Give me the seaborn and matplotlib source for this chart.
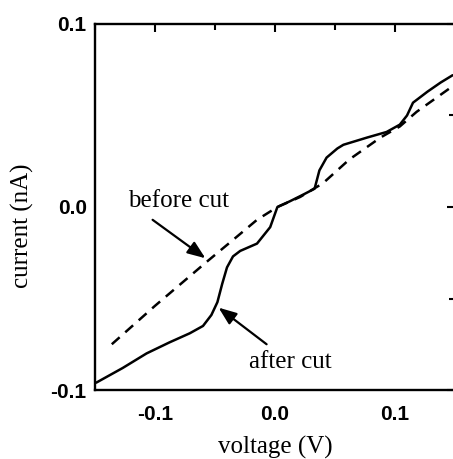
import numpy as np
import pandas as pd
import matplotlib
matplotlib.use('Agg')
import matplotlib.pyplot as plt
from matplotlib.ticker import MultipleLocator
import seaborn as sns

# I-V curve after the cut (solid)
v_after = [-0.149, -0.127, -0.107, -0.088, -0.071, -0.060, -0.053, -0.048, -0.044, -0.040,
           -0.035, -0.029, -0.015, -0.004, 0.002, 0.012, 0.023, 0.033, 0.037, 0.043,
           0.052, 0.057, 0.077, 0.093, 0.104, 0.110, 0.115, 0.127, 0.138, 0.148]
i_after = [-0.096, -0.088, -0.080, -0.074, -0.069, -0.065, -0.059, -0.052, -0.042, -0.033,
           -0.027, -0.024, -0.020, -0.011, 0.000, 0.003, 0.0066, 0.010, 0.020, 0.027,
           0.032, 0.034, 0.038, 0.041, 0.045, 0.050, 0.057, 0.063, 0.068, 0.072]

# I-V curve before the cut (dashed)
v_before = [-0.136, -0.100, -0.057, -0.035, -0.015, 0.002, 0.021, 0.040, 0.062, 0.088, 0.104, 0.118, 0.148]
i_before = [-0.075, -0.054, -0.030, -0.018, -0.007, 0.000, 0.0055, 0.013, 0.026, 0.038, 0.044, 0.052, 0.066]

tick_vals = [-0.1, 0.0, 0.1]
tick_text = ['-0.1', '0.0', '0.1']

dfAfter = pd.DataFrame({'voltage': v_after, 'current': i_after})
dfBefore = pd.DataFrame({'voltage': v_before, 'current': i_before})

sns.set_theme(style='white')
plt.rcParams['font.family'] = ['Liberation Sans', 'DejaVu Sans']
plt.rcParams['text.color'] = 'black'
plt.rcParams['axes.labelcolor'] = 'black'

fig = plt.figure(figsize=(4.53, 4.59), dpi=100)
ax = fig.add_axes([95 / 453, 69 / 459, 360 / 453, 366 / 459])

sns.lineplot(data=dfAfter, x='voltage', y='current', sort=False, ax=ax,
             color='black', linewidth=1.8)
sns.lineplot(data=dfBefore, x='voltage', y='current', sort=False, ax=ax,
             color='black', linewidth=1.8)
ax.lines[-1].set_dashes((4.2, 3.0))

ax.set_xlim(-0.15, 0.15)
ax.set_ylim(-0.1, 0.1)
ax.xaxis.set_minor_locator(MultipleLocator(0.05))
ax.yaxis.set_minor_locator(MultipleLocator(0.05))
ax.set_xticks(tick_vals, tick_text)
ax.set_yticks(tick_vals, tick_text)
for lab in ax.get_xticklabels() + ax.get_yticklabels():
    lab.set_fontweight('bold')

ax.tick_params(which='both', direction='in', top=True, right=True, colors='black',
               labelsize=15, width=1.5)
ax.tick_params(axis='x', pad=11)
ax.tick_params(axis='y', pad=6)
ax.tick_params(which='major', length=6)
ax.tick_params(which='minor', length=4)
for s in ax.spines.values():
    s.set_linewidth(1.7)
    s.set_color('black')

serif = ['Liberation Serif', 'DejaVu Serif']
ax.set_xlabel('voltage (V)', fontsize=18, family=serif)
ax.set_ylabel('current (nA)', fontsize=18, family=serif)
ax.xaxis.set_label_coords(0.5, -0.125)
ax.yaxis.set_label_coords(-0.17, 0.45)

arrow = dict(arrowstyle='-|>,head_length=0.9,head_width=0.35', color='black', lw=1.6,
             shrinkA=0, shrinkB=0)
ax.annotate('', xy=(-0.058, -0.028), xytext=(-0.102, -0.007), arrowprops=arrow)
ax.annotate('', xy=(-0.047, -0.055), xytext=(-0.007, -0.075), arrowprops=arrow)
ax.text(-0.0805, 0.0, 'before cut', fontsize=18, family=serif, ha='center', va='baseline')
ax.text(0.0125, -0.088, 'after cut', fontsize=18, family=serif, ha='center', va='baseline')

fig.savefig('out.png', dpi=100)
